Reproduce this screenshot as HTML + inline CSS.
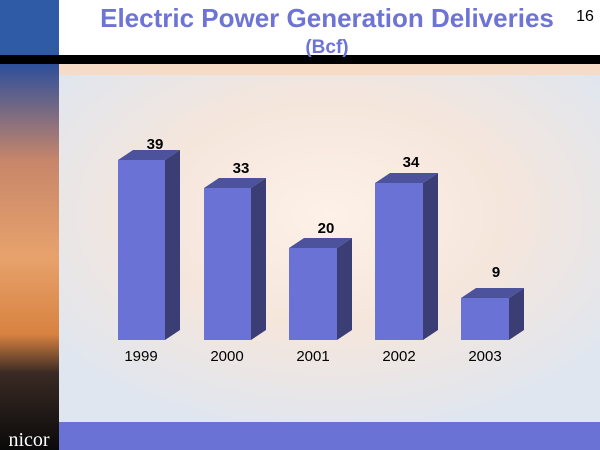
<!DOCTYPE html><html><head><style>body{margin:0}svg{display:block}</style></head><body>
<svg width="600" height="450" xmlns="http://www.w3.org/2000/svg" font-family="Liberation Sans, sans-serif">
<defs>
<radialGradient id="bg" cx="0.5" cy="0.4" r="0.65"><stop offset="0" stop-color="#fdf1e8"/><stop offset="0.5" stop-color="#f5e6dc"/><stop offset="1" stop-color="#dfe6f0"/></radialGradient>
<linearGradient id="fl" x1="0" y1="0" x2="0" y2="1"><stop offset="0" stop-color="#2d4f9a"/><stop offset="0.25" stop-color="#c7866a"/><stop offset="0.5" stop-color="#e7a26c"/><stop offset="0.7" stop-color="#d88240"/><stop offset="0.8" stop-color="#3a2a24"/><stop offset="1" stop-color="#0a0a0a"/></linearGradient>
</defs>
<rect width="600" height="450" fill="#fff"/>
<rect x="59" y="75" width="541" height="347" fill="url(#bg)"/>
<rect x="59" y="64" width="541" height="11" fill="#f6dcc7"/>
<rect x="0" y="0" width="59" height="55" fill="#2f5aa5"/>
<rect x="0" y="64" width="59" height="386" fill="url(#fl)"/>
<rect x="0" y="55" width="600" height="9" fill="#000"/>
<rect x="59" y="422" width="541" height="28" fill="#6b72d6"/>
<text x="29" y="446" font-family="Liberation Serif, serif" font-size="20" fill="#fff" text-anchor="middle">nicor</text>
<text x="327" y="27" font-size="26" font-weight="bold" fill="#6e74d6" text-anchor="middle">Electric Power Generation Deliveries</text>
<text x="327" y="53" font-size="19" font-weight="bold" fill="#6e74d6" text-anchor="middle">(Bcf)</text>
<text x="585" y="21" font-size="16" fill="#000" text-anchor="middle">16</text>
<g>
<polygon points="118,160 133,150 180,150 165,160" fill="#4d529d"/><polygon points="165,160 180,150 180,330 165,340" fill="#3a3e75"/><rect x="118" y="160" width="47" height="180" fill="#6b72d6"/>
<polygon points="204,188 219,178 266,178 251,188" fill="#4d529d"/><polygon points="251,188 266,178 266,330 251,340" fill="#3a3e75"/><rect x="204" y="188" width="47" height="152" fill="#6b72d6"/>
<polygon points="289,248 304,238 352,238 337,248" fill="#4d529d"/><polygon points="337,248 352,238 352,330 337,340" fill="#3a3e75"/><rect x="289" y="248" width="48" height="92" fill="#6b72d6"/>
<polygon points="375,183 390,173 438,173 423,183" fill="#4d529d"/><polygon points="423,183 438,173 438,330 423,340" fill="#3a3e75"/><rect x="375" y="183" width="48" height="157" fill="#6b72d6"/>
<polygon points="461,298 476,288 524,288 509,298" fill="#4d529d"/><polygon points="509,298 524,288 524,330 509,340" fill="#3a3e75"/><rect x="461" y="298" width="48" height="42" fill="#6b72d6"/>
</g>
<g font-size="15" font-weight="bold" text-anchor="middle" fill="#000">
<text x="155" y="149">39</text><text x="241" y="173">33</text><text x="326" y="233">20</text><text x="411" y="167">34</text><text x="496" y="277">9</text>
</g>
<g font-size="15" text-anchor="middle" fill="#000">
<text x="141" y="361">1999</text><text x="227" y="361">2000</text><text x="313" y="361">2001</text><text x="399" y="361">2002</text><text x="485" y="361">2003</text>
</g>
</svg></body></html>
